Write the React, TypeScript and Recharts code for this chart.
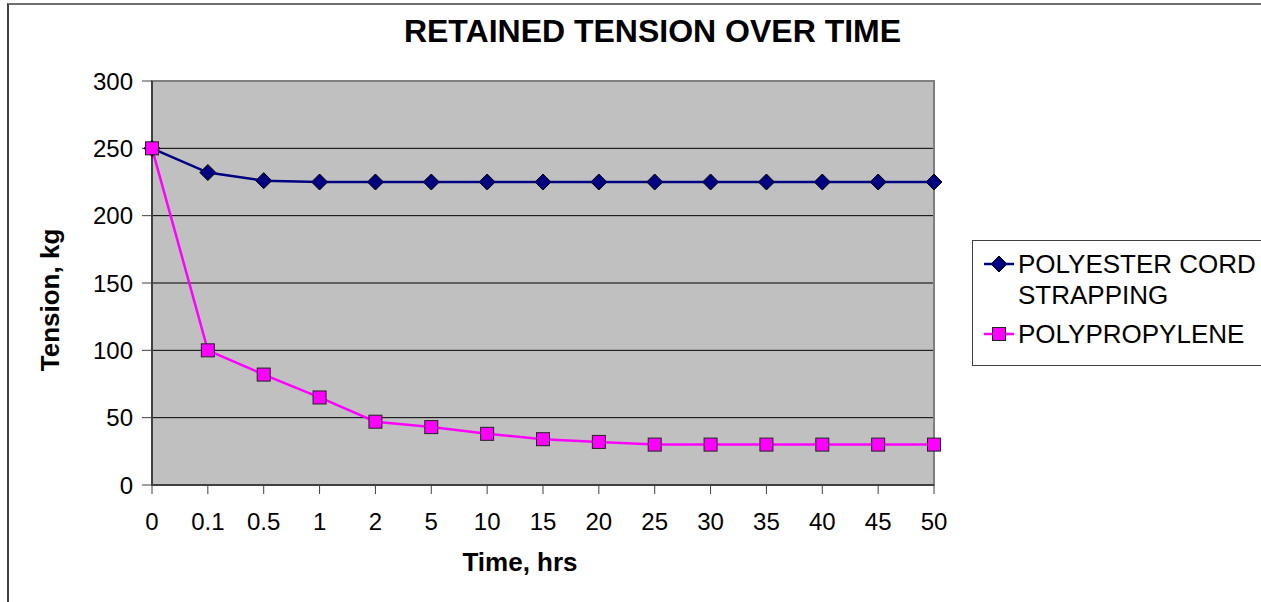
import React from "react";
import {
  LineChart,
  Line,
  XAxis,
  YAxis,
  CartesianGrid,
  ReferenceArea,
} from "recharts";

const hours = ["0", "0.1", "0.5", "1", "2", "5", "10", "15", "20", "25", "30", "35", "40", "45", "50"];
const polyester = [250, 232, 226, 225, 225, 225, 225, 225, 225, 225, 225, 225, 225, 225, 225];
const polypropylene = [250, 100, 82, 65, 47, 43, 38, 34, 32, 30, 30, 30, 30, 30, 30];
const yTicks = [0, 50, 100, 150, 200, 250, 300];

const seriesNames = ["POLYESTER CORD STRAPPING", "POLYPROPYLENE"];
const seriesColors = ["#000080", "#FF00FF"];

const data = hours.map((h, i) => ({
  time: h,
  polyester: polyester[i],
  polypropylene: polypropylene[i],
}));

const FONT = "'Liberation Sans', Arial, sans-serif";

function Diamond(props: any) {
  const { cx, cy } = props;
  if (cx == null || cy == null) return null;
  const r = 8;
  return (
    <path
      d={`M${cx},${cy - r} L${cx + r},${cy} L${cx},${cy + r} L${cx - r},${cy} Z`}
      fill="#000080"
      stroke="#000"
      strokeWidth={1}
    />
  );
}

function Square(props: any) {
  const { cx, cy } = props;
  if (cx == null || cy == null) return null;
  const s = 6.5;
  return (
    <rect
      x={cx - s}
      y={cy - s}
      width={s * 2}
      height={s * 2}
      fill="#FF00FF"
      stroke="#222"
      strokeWidth={1}
    />
  );
}

export default function App() {
  return (
    <div
      style={{
        position: "absolute",
        left: 0,
        top: 0,
        width: 1261,
        height: 602,
        overflow: "hidden",
        background: "#fff",
        fontFamily: FONT,
      }}
    >
      <div
        style={{
          position: "absolute",
          left: 7,
          top: 3,
          width: 1400,
          height: 800,
          borderTop: "2px solid #707070",
          borderLeft: "2px solid #404040",
        }}
      />
      <div
        style={{
          position: "absolute",
          left: 0,
          width: 1305,
          top: 13,
          textAlign: "center",
          fontSize: 32,
          fontWeight: "bold",
          lineHeight: "36px",
        }}
      >
        RETAINED TENSION OVER TIME
      </div>
      <LineChart
        width={1261}
        height={602}
        data={data}
        margin={{ top: 81, right: 327, bottom: 67, left: 52 }}
        style={{ position: "absolute", left: 0, top: 0 }}
      >
        <CartesianGrid vertical={false} stroke="#000" fill="#C0C0C0" />
        <ReferenceArea
          y1={0}
          y2={300}
          fill="none"
          stroke="#808080"
          strokeWidth={2}
          ifOverflow="visible"
        />
        <XAxis
          dataKey="time"
          height={50}
          interval={0}
          tickSize={9}
          tickMargin={19}
          axisLine={{ stroke: "#404040", strokeWidth: 2 }}
          tickLine={{ stroke: "#404040" }}
          tick={{ fill: "#000", fontSize: 24, fontFamily: FONT }}
        />
        <YAxis
          width={100}
          domain={[0, 300]}
          ticks={yTicks}
          interval={0}
          tickSize={10}
          tickMargin={9}
          axisLine={{ stroke: "#404040", strokeWidth: 2 }}
          tickLine={{ stroke: "#404040" }}
          tick={{ fill: "#000", fontSize: 24, fontFamily: FONT }}
        />
        <Line
          dataKey="polyester"
          stroke={seriesColors[0]}
          strokeWidth={2.5}
          dot={<Diamond />}
          isAnimationActive={false}
        />
        <Line
          dataKey="polypropylene"
          stroke={seriesColors[1]}
          strokeWidth={2.5}
          dot={<Square />}
          isAnimationActive={false}
        />
      </LineChart>
      <div
        style={{
          position: "absolute",
          left: 0,
          width: 1040,
          top: 547,
          textAlign: "center",
          fontSize: 26,
          fontWeight: "bold",
          lineHeight: "30px",
        }}
      >
        Time, hrs
      </div>
      <div
        style={{
          position: "absolute",
          left: 50,
          top: 300,
          width: 0,
          height: 0,
        }}
      >
        <div
          style={{
            position: "absolute",
            left: -150,
            top: -15,
            width: 300,
            textAlign: "center",
            fontSize: 26,
            fontWeight: "bold",
            lineHeight: "30px",
            transform: "rotate(-90deg)",
          }}
        >
          Tension, kg
        </div>
      </div>
      <div
        style={{
          position: "absolute",
          left: 972,
          top: 240,
          width: 400,
          height: 124,
          border: "1.5px solid #404040",
          fontSize: 26,
          lineHeight: "31px",
        }}
      >
        <div style={{ position: "absolute", left: 10, top: 8 }}>
          <svg width={32} height={20} style={{ position: "absolute", left: 0, top: 5 }}>
            <line x1={1} y1={10} x2={31} y2={10} stroke={seriesColors[0]} strokeWidth={2.5} />
            <Diamond cx={16} cy={10} />
          </svg>
          <div style={{ position: "absolute", left: 35, top: 0, width: 280 }}>
            POLYESTER CORD
            <br />
            STRAPPING
          </div>
        </div>
        <div style={{ position: "absolute", left: 10, top: 78 }}>
          <svg width={32} height={20} style={{ position: "absolute", left: 0, top: 5 }}>
            <line x1={1} y1={10} x2={31} y2={10} stroke={seriesColors[1]} strokeWidth={2.5} />
            <Square cx={16} cy={10} />
          </svg>
          <div style={{ position: "absolute", left: 35, top: 0, width: 300, whiteSpace: "nowrap" }}>
            {seriesNames[1]}
          </div>
        </div>
      </div>
    </div>
  );
}
